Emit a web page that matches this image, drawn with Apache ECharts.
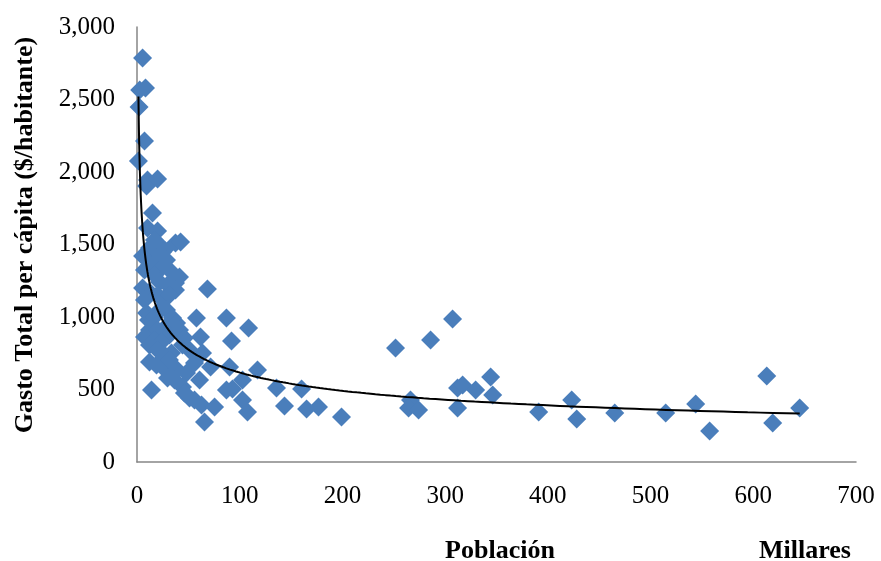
<!DOCTYPE html>
<html>
<head>
<meta charset="utf-8">
<script src="https://cdn.jsdelivr.net/npm/echarts@6/dist/echarts.min.js"></script>
<style>html,body{margin:0;padding:0;background:#fff}#c{width:881px;height:561px}</style>
</head>
<body>
<div id="c"></div>
<script>
// Población (miles) and Gasto Total per cápita ($/habitante)
const poblacion = [
  5.4, 2.6, 8.3, 2.0, 7.3, 1.4, 9.3, 10.2, 20.0, 15.1,
  10.2, 20.0, 17.0, 21.9, 24.8, 12.2, 19.0, 5.4, 26.8, 37.5,
  42.4, 7.3, 12.2, 23.9, 28.7, 33.6, 17.0, 21.9, 29.7, 37.5,
  41.4, 37.5, 5.4, 12.2, 20.0, 26.8, 7.3, 31.6, 68.6, 9.3,
  11.2, 17.0, 21.9, 28.7, 34.6, 38.5, 12.2, 20.0, 26.8, 31.6,
  7.3, 17.0, 23.9, 41.4, 46.2, 57.9, 61.8, 87.1, 108.6, 92.0,
  12.2, 20.0, 26.8, 33.6, 44.3, 51.1, 12.2, 19.0, 24.8, 31.6,
  39.4, 48.2, 56.0, 63.8, 71.6, 60.9, 36.5, 29.7, 14.1, 44.3,
  46.2, 51.1, 56.0, 62.8, 75.5, 65.7, 87.1, 90.1, 102.7, 107.6,
  93.0, 117.3, 102.7, 135.8, 143.6, 160.2, 165.1, 176.7, 199.1, 251.7,
  285.8, 307.2, 266.3, 264.4, 274.1, 312.1, 317.0, 329.7, 344.3, 346.3,
  312.1, 391.1, 423.2, 428.1, 465.1, 514.7, 543.9, 557.5, 613.1, 618.9,
  645.2
];
const gasto = [
  2786, 2566, 2579, 2448, 2214, 2076, 1903, 1945, 1952, 1717,
  1614, 1593, 1531, 1497, 1448, 1476, 1407, 1421, 1462, 1510,
  1517, 1324, 1359, 1338, 1393, 1310, 1290, 1241, 1221, 1234,
  1276, 1186, 1200, 1172, 1152, 1131, 1117, 1152, 1193, 1028,
  979, 1000, 1048, 1048, 993, 959, 910, 910, 924, 876,
  862, 841, 828, 910, 855, 993, 862, 993, 924, 834,
  807, 772, 738, 752, 807, 772, 690, 669, 655, 703,
  634, 614, 683, 752, 655, 566, 566, 579, 497, 517,
  476, 441, 428, 393, 379, 276, 497, 655, 428, 345,
  503, 634, 566, 510, 386, 503, 366, 379, 310, 786,
  841, 986, 428, 372, 359, 510, 531, 497, 586, 462,
  372, 345, 428, 297, 338, 338, 400, 214, 593, 269,
  372
];
const xTicks = { min: 0, max: 700, interval: 100 };
const yTicks = { min: 0, max: 3000, interval: 500 };

const points = poblacion.map((x, i) => [x, gasto[i]]);

// Power trend line (least squares on ln-ln), like Excel's power trendline
let n = points.length, sx = 0, sy = 0, sxx = 0, sxy = 0;
points.forEach(([x, y]) => {
  const lx = Math.log(x), ly = Math.log(y);
  sx += lx; sy += ly; sxx += lx * lx; sxy += lx * ly;
});
const b = (n * sxy - sx * sy) / (n * sxx - sx * sx);
const a = Math.exp((sy - b * sx) / n);
const xmin = Math.min(...poblacion), xmax = Math.max(...poblacion);
const trend = [];
for (let i = 0; i <= 300; i++) {
  const x = xmin * Math.pow(xmax / xmin, i / 300);
  trend.push([x, a * Math.pow(x, b)]);
}

const font = 'Liberation Serif, Times New Roman, serif';
const chart = echarts.init(document.getElementById('c'), null, { renderer: 'canvas' });
chart.setOption({
  animation: false,
  backgroundColor: '#ffffff',
  grid: { left: 137, right: 25, top: 27, bottom: 99, containLabel: false },
  xAxis: {
    type: 'value', min: xTicks.min, max: xTicks.max, interval: xTicks.interval,
    axisLine: { show: true, lineStyle: { color: '#868686', width: 1.5 } },
    axisTick: { show: false },
    splitLine: { show: false },
    axisLabel: { color: '#000', fontFamily: font, fontSize: 25, margin: 22 }
  },
  yAxis: {
    type: 'value', min: yTicks.min, max: yTicks.max, interval: yTicks.interval,
    axisLine: { show: true, lineStyle: { color: '#868686', width: 1.5 } },
    axisTick: { show: false },
    splitLine: { show: false },
    axisLabel: {
      color: '#000', fontFamily: font, fontSize: 25, margin: 22,
      formatter: v => v.toLocaleString('en-US')
    }
  },
  graphic: [
    { type: 'text', left: 'center', style: {} , invisible: true },
    { type: 'text', x: 25, y: 235, rotation: Math.PI / 2, style: {
        text: 'Gasto Total per cápita ($/habitante)', fill: '#000',
        font: 'bold 26px ' + font, textAlign: 'center', textVerticalAlign: 'middle' } },
    { type: 'text', x: 500, y: 551, style: {
        text: 'Población', fill: '#000', font: 'bold 26px ' + font,
        textAlign: 'center', textVerticalAlign: 'middle' } },
    { type: 'text', x: 805, y: 551, style: {
        text: 'Millares', fill: '#000', font: 'bold 26px ' + font,
        textAlign: 'center', textVerticalAlign: 'middle' } }
  ],
  series: [
    {
      type: 'scatter', data: points, symbol: 'diamond', symbolSize: 19,
      itemStyle: { color: '#4a7ebb', opacity: 1 }, z: 2
    },
    {
      type: 'line', data: trend, showSymbol: false, symbol: 'none', smooth: false,
      lineStyle: { color: '#000', width: 2 }, z: 3, silent: true
    }
  ]
});
</script>
</body>
</html>
